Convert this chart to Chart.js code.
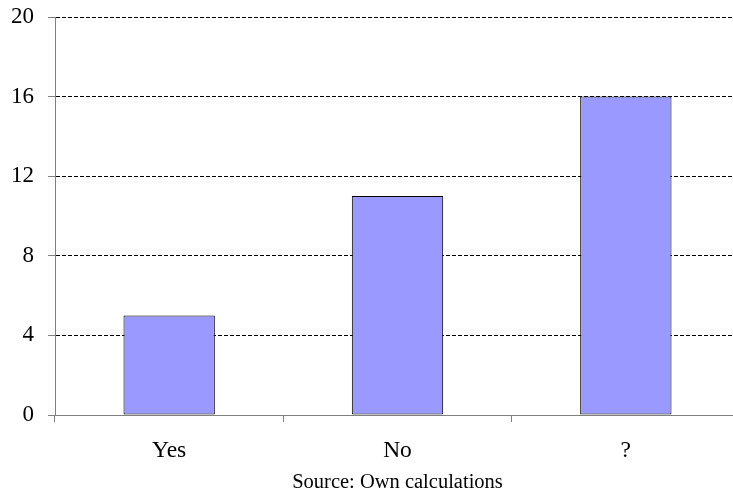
<!DOCTYPE html>
<html>
<head>
<meta charset="utf-8">
<script src="https://cdn.jsdelivr.net/npm/chart.js@4/dist/chart.umd.min.js"></script>
<style>
  html, body { margin: 0; padding: 0; background: #fff; overflow: hidden; }
  #wrap { width: 745px; height: 498px; }
</style>
</head>
<body>
<div id="wrap"><canvas id="chart" width="745" height="498"></canvas></div>
<script>
// Answers
const categories = ['Yes', 'No', '?'];
const counts = [5, 11, 16];
const yTicks = [0, 4, 8, 12, 16, 20];
const sourceNote = 'Source: Own calculations';

const serif = 'Liberation Serif, Times New Roman, serif';
const axisGrey = '#808080';

const ctx = document.getElementById('chart').getContext('2d');
new Chart(ctx, {
    type: 'bar',
    data: {
        labels: categories,
        datasets: [{
            data: counts,
            backgroundColor: '#9999FF',
            borderColor: '#000000',
            borderWidth: 1,
            borderSkipped: false,
            barPercentage: 0.4,
            categoryPercentage: 1.0
        }]
    },
    options: {
        responsive: false,
        animation: false,
        events: [],
        layout: { padding: { top: 17, right: 5, bottom: 0, left: 0 } },
        plugins: {
            legend: { display: false },
            tooltip: { enabled: false }
        },
        scales: {
            x: {
                grid: {
                    offset: true,
                    drawOnChartArea: false,
                    tickLength: 7,
                    tickColor: axisGrey
                },
                border: { color: axisGrey, width: 1 },
                ticks: {
                    color: '#000',
                    font: { family: serif, size: 23.5 },
                    padding: 15,
                    maxRotation: 0
                },
                title: {
                    display: true,
                    text: sourceNote,
                    color: '#000',
                    font: { family: serif, size: 20.5 },
                    padding: { top: 0, bottom: 3 }
                },
                afterFit: scale => { scale.height = 83; }
            },
            y: {
                min: 0,
                max: 20,
                afterBuildTicks: scale => {
                    scale.ticks = yTicks.map(v => ({ value: v }));
                },
                grid: {
                    color: c => (c.tick && c.tick.value === 0) ? 'rgba(0,0,0,0)' : '#000',
                    lineWidth: 1,
                    tickLength: 7,
                    tickColor: axisGrey,
                    tickBorderDash: []
                },
                border: { color: axisGrey, width: 1, dash: [4, 2] },
                ticks: {
                    color: '#000',
                    // small lineHeight keeps the label overhang from pushing the plot down
                    font: { family: serif, size: 23, lineHeight: 0.1 },
                    padding: 14
                },
                afterFit: scale => { scale.width = 55; }
            }
        }
    }
});
</script>
</body>
</html>
